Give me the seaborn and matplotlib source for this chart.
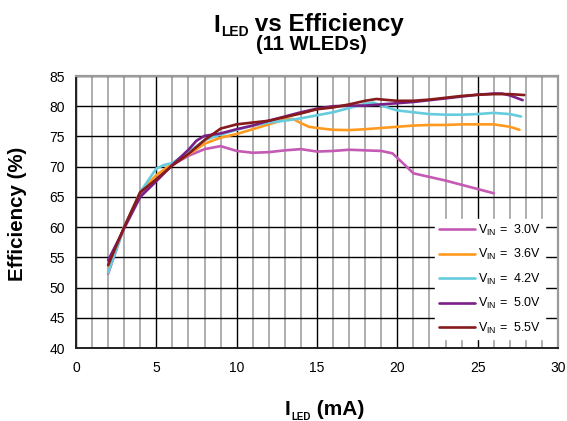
import numpy as np
import pandas as pd
import matplotlib
matplotlib.use("Agg")
import matplotlib.pyplot as plt
from matplotlib.ticker import MultipleLocator
import seaborn as sns

# ------------------------------------------------------------
# Data
# ------------------------------------------------------------

i_30 = [2, 3, 4, 5, 6, 7, 8, 9, 10, 11, 12, 13, 14, 15, 16, 17, 18, 19,
        19.7, 20.5, 21, 22, 23, 24, 25, 26]
eff_30 = [52.3, 60.0, 65.5, 68.0, 70.3, 71.8, 72.9, 73.4, 72.6, 72.3, 72.4,
          72.7, 72.9, 72.5, 72.6, 72.8, 72.7, 72.6, 72.2, 70.2, 68.9, 68.3,
          67.7, 67.0, 66.3, 65.6]

i_36 = [2, 3, 4, 5, 6, 7, 8, 9, 10, 11, 12, 13, 13.5, 14, 14.5, 15, 16, 17,
        18, 19, 20, 21, 22, 23, 24, 25, 26, 26.5, 27, 27.6]
eff_36 = [53.4, 60.0, 65.8, 68.6, 70.5, 72.0, 73.8, 74.8, 75.4, 76.2, 77.0,
          77.8, 77.9, 77.2, 76.6, 76.4, 76.1, 76.05, 76.2, 76.4, 76.6, 76.8,
          76.9, 76.9, 77.0, 77.0, 77.0, 76.8, 76.6, 76.1]

i_42 = [2, 3, 4, 5, 5.5, 6, 7, 8, 9, 10, 11, 12, 13, 14, 15, 16, 17, 18,
        18.5, 19, 20, 21, 22, 23, 24, 25, 26, 27, 27.7]
eff_42 = [52.5, 60.0, 65.8, 69.7, 70.3, 70.6, 72.4, 74.4, 75.3, 76.1, 76.8,
          77.3, 77.6, 78.0, 78.5, 79.0, 79.7, 80.4, 80.6, 80.1, 79.3, 79.0,
          78.7, 78.6, 78.6, 78.7, 78.9, 78.7, 78.3]

i_50 = [2, 3, 4, 5, 6, 7, 7.5, 8, 9, 10, 11, 12, 13, 14, 15, 16, 17, 18, 19,
        20, 21, 22, 23, 24, 25, 26, 26.5, 27, 27.8]
eff_50 = [54.5, 59.8, 65.0, 67.6, 70.3, 72.8, 74.3, 75.1, 75.5, 76.2, 76.8,
          77.6, 78.3, 79.0, 79.6, 80.0, 80.1, 80.1, 80.3, 80.5, 80.7, 81.0,
          81.3, 81.6, 81.9, 82.1, 82.1, 81.8, 81.0]

i_55 = [2, 3, 4, 5, 6, 7, 8, 9, 10, 11, 12, 13, 14, 15, 16, 17, 18, 18.7,
        19.5, 20, 21, 22, 23, 24, 25, 26, 27, 27.9]
eff_55 = [53.7, 60.0, 65.8, 67.9, 70.2, 72.1, 74.4, 76.3, 77.0, 77.3, 77.6,
          78.2, 78.8, 79.5, 79.8, 80.3, 80.9, 81.2, 81.0, 80.9, 80.9, 81.1,
          81.4, 81.7, 81.9, 82.0, 82.0, 81.85]

vin_labels = ["3.0V", "3.6V", "4.2V", "5.0V", "5.5V"]
series = [(i_30, eff_30), (i_36, eff_36), (i_42, eff_42),
          (i_50, eff_50), (i_55, eff_55)]
colors = ["#C45AB3", "#FF9A1F", "#66CCDD", "#7A1F86", "#861A1C"]

# ------------------------------------------------------------
# Theme
# ------------------------------------------------------------

sns.set_theme(style="white")
plt.rcParams["font.family"] = ["Liberation Sans", "DejaVu Sans"]
plt.rcParams["mathtext.fontset"] = "custom"
plt.rcParams["mathtext.rm"] = "Liberation Sans"
plt.rcParams["mathtext.bf"] = "Liberation Sans:bold"
for key in ["text.color", "axes.labelcolor", "xtick.color", "ytick.color"]:
    plt.rcParams[key] = "black"

W, H = 567, 421
fig = plt.figure(figsize=(W / 100, H / 100), dpi=100)
ax = fig.add_axes([76 / W, 1 - 348 / H, 482 / W, 272 / H])

# grid
ax.xaxis.set_major_locator(MultipleLocator(5))
ax.xaxis.set_minor_locator(MultipleLocator(1))
ax.yaxis.set_major_locator(MultipleLocator(5))
ax.grid(which="minor", axis="x", color="#A8A8A8", linewidth=1.3)
ax.grid(which="major", axis="both", color="black", linewidth=1.0)
ax.set_axisbelow(True)

for (x, y), lab, col in zip(series, vin_labels, colors):
    df = pd.DataFrame({"ILED": x, "Eff": y})
    sns.lineplot(data=df, x="ILED", y="Eff", color=col, linewidth=1.9,
                 sort=False, ax=ax,
                 label=r"V$_{\mathregular{IN}}$ =  " + lab)

ax.set_xlim(0, 30)
ax.set_ylim(40, 85)
ax.set_xlabel("")
ax.set_ylabel("")

for side in ["left", "bottom"]:
    ax.spines[side].set_color("#222222")
    ax.spines[side].set_linewidth(1.4)
for side in ["top", "right"]:
    ax.spines[side].set_color("#9A9A9A")
    ax.spines[side].set_linewidth(1.6)

ax.tick_params(axis="both", which="both", direction="in", length=3,
               color="#222222", labelsize=10)
ax.tick_params(axis="x", which="both", pad=9)
ax.tick_params(axis="y", which="both", pad=8)

leg = ax.legend(loc="lower right", bbox_to_anchor=(0.972, 0.032),
                frameon=True, fancybox=False, framealpha=1,
                edgecolor="white", fontsize=9, handlelength=2.9,
                handletextpad=0.2, labelspacing=0.75, borderpad=0.3,
                borderaxespad=0)


# ------------------------------------------------------------
# Title and axis labels with small lowered subscripts
# ------------------------------------------------------------

def place_pieces(x_left, baseline, pieces):
    renderer = fig.canvas.get_renderer()
    x = x_left
    for txt, size, dy, gap in pieces:
        t = fig.text(x / W, 1 - (baseline + dy) / H, txt, fontsize=size,
                     fontweight="bold", ha="left", va="baseline")
        x += t.get_window_extent(renderer).width + gap


place_pieces(213, 31.5, [("I", 17.5, 0, 1), ("LED", 10, 4, 0),
                         (" vs Efficiency", 17.5, 0, 0)])
fig.text(311 / W, 1 - 50 / H, "(11 WLEDs)", ha="center", va="baseline",
         fontsize=14.5, fontweight="bold")

place_pieces(285, 415, [("I", 15, 0, 1), ("LED", 7, 5, 0),
                        (" (mA)", 15, 0, 0)])
fig.text(18 / W, 1 - 214 / H, "Efficiency (%)", rotation=90, ha="center",
         va="center", fontsize=14.8, fontweight="bold")

fig.savefig("out.png", dpi=100)
plt.close(fig)
